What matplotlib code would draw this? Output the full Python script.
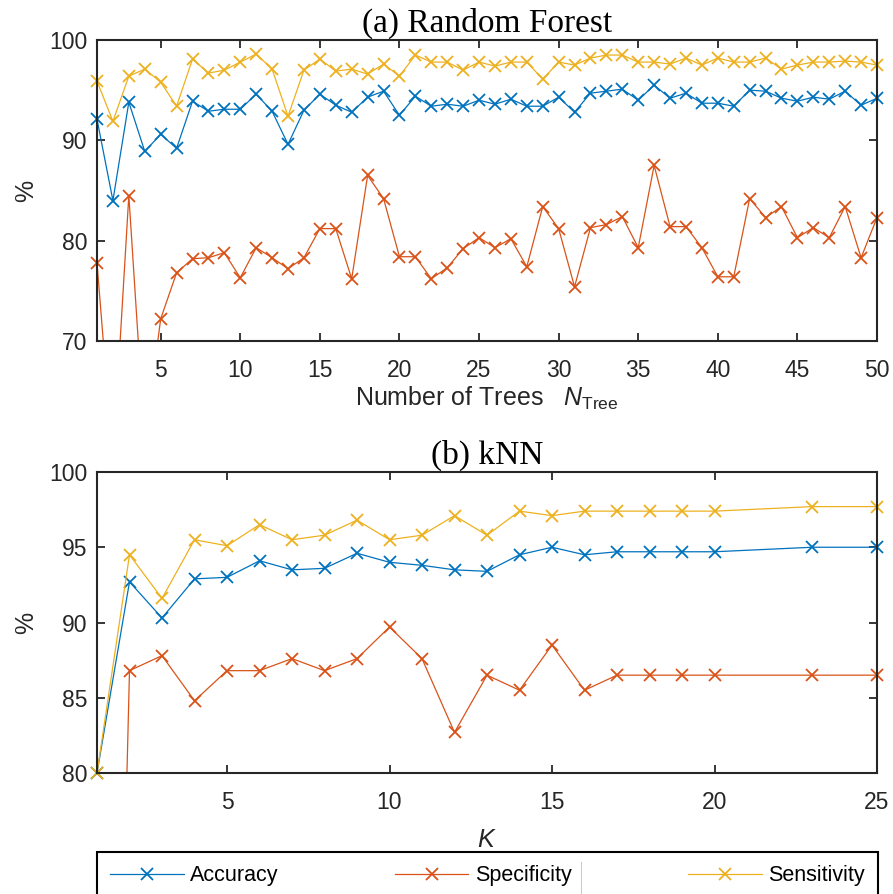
import numpy as np
import matplotlib
matplotlib.use('Agg')
import matplotlib.pyplot as plt
from matplotlib.lines import Line2D

plt.rcParams['font.family'] = ['Liberation Sans', 'DejaVu Sans']
plt.rcParams['mathtext.fontset'] = 'custom'
plt.rcParams['mathtext.rm'] = 'Liberation Sans'
plt.rcParams['mathtext.it'] = 'Liberation Sans:italic'

# (a) random forest, number of trees 1..50
n_trees = list(range(1, 51))
acc_rf = [92.1, 84.0, 93.8, 88.9, 90.6, 89.2, 93.9, 92.9, 93.1, 93.1,
          94.6, 92.9, 89.6, 93.0, 94.6, 93.5, 92.8, 94.3, 94.9, 92.5,
          94.4, 93.4, 93.6, 93.4, 94.0, 93.6, 94.1, 93.4, 93.4, 94.3,
          92.8, 94.7, 94.9, 95.1, 94.0, 95.5, 94.2, 94.7, 93.7, 93.7,
          93.4, 95.0, 94.9, 94.2, 93.9, 94.3, 94.1, 94.9, 93.5, 94.2]
spe_rf = [77.8, 58.0, 84.5, 60.0, 72.2, 76.8, 78.2, 78.3, 78.8, 76.3,
          79.3, 78.3, 77.2, 78.3, 81.2, 81.2, 76.2, 86.5, 84.2, 78.4,
          78.4, 76.2, 77.3, 79.2, 80.3, 79.3, 80.2, 77.4, 83.4, 81.2,
          75.4, 81.3, 81.6, 82.4, 79.3, 87.5, 81.4, 81.4, 79.3, 76.4,
          76.4, 84.2, 82.3, 83.4, 80.3, 81.3, 80.3, 83.4, 78.3, 82.3]
sen_rf = [95.9, 91.9, 96.4, 97.1, 95.8, 93.4, 98.1, 96.7, 97.0, 97.8,
          98.6, 97.1, 92.4, 97.0, 98.1, 96.9, 97.1, 96.6, 97.6, 96.4,
          98.5, 97.8, 97.8, 97.0, 97.8, 97.4, 97.8, 97.8, 96.1, 97.8,
          97.5, 98.2, 98.5, 98.5, 97.8, 97.8, 97.6, 98.2, 97.5, 98.2,
          97.8, 97.8, 98.2, 97.1, 97.5, 97.8, 97.8, 97.9, 97.8, 97.5]

# (b) kNN
k_vals = list(range(1, 21)) + [23, 25]
acc_knn = [80.0, 92.7, 90.3, 92.9, 93.0, 94.1, 93.5, 93.6, 94.6, 94.0, 93.8,
           93.5, 93.4, 94.5, 95.0, 94.5, 94.7, 94.7, 94.7, 94.7, 95.0, 95.0]
spe_knn = [0.0, 86.8, 87.8, 84.8, 86.8, 86.8, 87.6, 86.8, 87.6, 89.7, 87.6,
           82.7, 86.5, 85.5, 88.5, 85.5, 86.5, 86.5, 86.5, 86.5, 86.5, 86.5]
sen_knn = [80.0, 94.5, 91.6, 95.5, 95.1, 96.5, 95.5, 95.8, 96.8, 95.5, 95.8,
           97.1, 95.8, 97.4, 97.1, 97.4, 97.4, 97.4, 97.4, 97.4, 97.7, 97.7]

labels = ['Accuracy', 'Specificity', 'Sensitivity']
colors = ['#0072BD', '#D95319', '#EDB120']
dark = '#262626'

fig = plt.figure(figsize=(8.93, 8.94), dpi=100)
W, H = 893, 894
ax1 = fig.add_axes([97 / W, 1 - 341 / H, 780 / W, 301 / H])
ax2 = fig.add_axes([97 / W, 1 - 773 / H, 780 / W, 301 / H])


def draw(ax, x, series, ylim):
    for vals, c in zip(series, colors):
        v = np.array(vals, dtype=float)
        ax.plot(x, v, color=c, lw=0.9)
        # markers on the edge are drawn whole, like the original
        shown = np.where((v >= ylim[0]) & (v <= ylim[1]), v, np.nan)
        ax.plot(x, shown, ls='none', marker='x', ms=8, mew=1.3, color=c,
                clip_on=False)
    ax.set_ylim(*ylim)
    ax.tick_params(direction='in', top=True, right=True, length=6, width=1.3,
                   colors=dark, labelsize=16.5)
    ax.tick_params(axis='x', pad=13)
    ax.tick_params(axis='y', pad=7)
    for s in ax.spines.values():
        s.set_color(dark)
        s.set_linewidth(1.5)


draw(ax1, n_trees, [acc_rf, spe_rf, sen_rf], (70, 100))
ax1.set_xlim(1, 50)
ax1.set_xticks(range(5, 51, 5))
ax1.set_yticks([70, 80, 90, 100])
ax1.set_xlabel(r'Number of Trees   $N_{\mathrm{Tree}}$', fontsize=18,
               color=dark, labelpad=2)
ax1.set_ylabel('%', fontsize=18, color=dark, labelpad=8)
ax1.set_title('(a) Random Forest', family='Liberation Serif', fontsize=24,
              pad=6)

draw(ax2, k_vals, [acc_knn, spe_knn, sen_knn], (80, 100))
ax2.set_xlim(1, 25)
ax2.set_xticks(range(5, 26, 5))
ax2.set_yticks([80, 85, 90, 95, 100])
ax2.set_xlabel(r'$K$', fontsize=18, color=dark, labelpad=10)
ax2.set_ylabel('%', fontsize=18, color=dark, labelpad=8)
ax2.set_title('(b) kNN', family='Liberation Serif', fontsize=24, pad=6)

handles = [Line2D([], [], color=c, lw=0.9, marker='x', ms=8, mew=1.3)
           for c in colors]
leg = fig.legend(handles, labels, loc='upper left', ncol=3, mode='expand',
                 bbox_to_anchor=(97 / W, 0, 781 / W, 42 / H), fontsize=15.5,
                 handlelength=3.4, handletextpad=0.3, borderpad=0.62,
                 borderaxespad=0, fancybox=False, framealpha=1,
                 edgecolor='black')
leg.get_frame().set_linewidth(1.5)

# faint divider inside the legend box, as in the source figure
fig.add_artist(Line2D([581 / W, 581 / W], [0, 1 - 862 / H],
                      color='#cccccc', lw=0.8, zorder=10))

fig.savefig('out.png', dpi=100)
